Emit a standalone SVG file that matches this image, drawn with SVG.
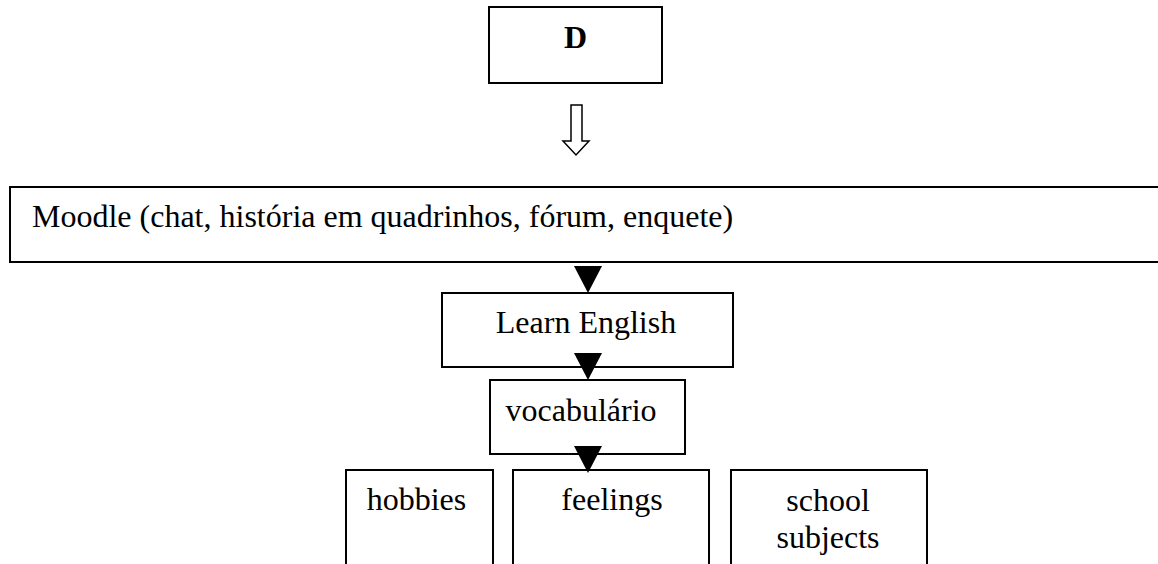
<svg xmlns="http://www.w3.org/2000/svg" width="1158" height="564" viewBox="0 0 1158 564">
<style>
.box{fill:#fff;stroke:#000;stroke-width:2}
.t{font-family:"Liberation Serif","Times New Roman",serif;font-size:32px;fill:#000}
.c{text-anchor:middle}
.tri{fill:#000}
</style>
<rect width="1158" height="564" fill="#fff"/>
<g id="node-d"><rect class="box" x="489" y="7" width="173" height="76"/><text class="t c" x="575.5" y="48" font-weight="bold" font-size="29">D</text></g>
<g id="node-moodle"><rect class="box" x="10" y="187" width="1160" height="75"/><text class="t" x="32" y="227">Moodle (chat, história em quadrinhos, fórum, enquete)</text></g>
<g id="node-learn"><rect class="box" x="442" y="293" width="291" height="74"/><text class="t c" x="586" y="333">Learn English</text></g>
<g id="node-vocab"><rect class="box" x="490" y="380" width="195" height="74"/><text class="t c" x="581" y="421">vocabulário</text></g>
<g id="node-hobbies"><rect class="box" x="346" y="470" width="147" height="110"/><text class="t c" x="416.5" y="510">hobbies</text></g>
<g id="node-feelings"><rect class="box" x="513" y="470" width="196" height="110"/><text class="t c" x="612" y="510">feelings</text></g>
<g id="node-school"><rect class="box" x="731" y="470" width="196" height="110"/><text class="t c" x="828" y="511">school</text><text class="t c" x="828" y="548">subjects</text></g>
<g id="connectors">
<path d="M571,105 H582 V141 H589 L576,155 L563,141 H571 Z" fill="#fff" stroke="#000" stroke-width="1.5"/>
<path class="tri" d="M574,266 H602 L588,293 Z"/>
<path class="tri" d="M574,353 H602 L588,380 Z"/>
<path class="tri" d="M574,446 H602 L588,473 Z"/>
</g>
</svg>
